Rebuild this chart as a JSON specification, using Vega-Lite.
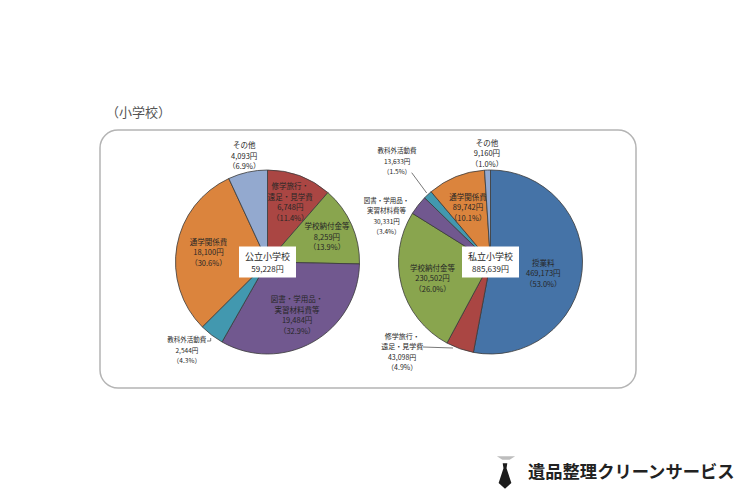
{
"$schema":"https://vega.github.io/schema/vega-lite/v6.json",
"width":536,"height":258,"autosize":"none",
"padding":{"left":100,"top":130,"right":114,"bottom":112},
"background":"white",
"view":{"stroke":"#b4b4b4","strokeWidth":1.5,"cornerRadius":18,"fill":"white"},
"title":{"text":"（小学校）","anchor":"start","frame":"group","font":"Noto Sans CJK JP","fontSize":13,"fontWeight":"normal","color":"#555555","offset":10,"dx":6},
"config":{"text":{"baseline":"middle","font":"Noto Sans CJK JP","lineHeight":10.5,"color":"#262626"}},
"datasets":{
"costs":[
{"id":"pub1","school":"公立小学校","order":1,"category":"修学旅行","value":6748,"label":["修学旅行・","遠足・見学費","6,748円","（11.4%）"]},
{"id":"pub2","school":"公立小学校","order":2,"category":"学校納付金","value":8259,"label":["学校納付金等","8,259円","（13.9%）"]},
{"id":"pub3","school":"公立小学校","order":3,"category":"図書","value":19484,"label":["図書・学用品・","実習材料費等","19,484円","（32.9%）"]},
{"id":"pub4","school":"公立小学校","order":4,"category":"教科外","value":2544,"label":["教科外活動費","2,544円","（4.3%）"]},
{"id":"pub5","school":"公立小学校","order":5,"category":"通学","value":18100,"label":["通学関係費","18,100円","（30.6%）"]},
{"id":"pub6","school":"公立小学校","order":6,"category":"その他","value":4093,"label":["その他","4,093円","（6.9%）"]},
{"id":"pri0","school":"私立小学校","order":0,"category":"授業料","value":469173,"label":["授業料","469,173円","（53.0%）"]},
{"id":"pri1","school":"私立小学校","order":1,"category":"修学旅行","value":43098,"label":["修学旅行・","遠足・見学費","43,098円","（4.9%）"]},
{"id":"pri2","school":"私立小学校","order":2,"category":"学校納付金","value":230502,"label":["学校納付金等","230,502円","（26.0%）"]},
{"id":"pri3","school":"私立小学校","order":3,"category":"図書","value":30331,"label":["図書・学用品・","実習材料費等","30,331円","（3.4%）"]},
{"id":"pri4","school":"私立小学校","order":4,"category":"教科外","value":13633,"label":["教科外活動費","13,633円","（1.5%）"]},
{"id":"pri5","school":"私立小学校","order":5,"category":"通学","value":89742,"label":["通学関係費","89,742円","（10.1%）"]},
{"id":"pri6","school":"私立小学校","order":6,"category":"その他","value":9160,"label":["その他","9,160円","（1.0%）"]}
],
"totals":[{"school":"公立小学校","total":"59,228円"},{"school":"私立小学校","total":"885,639円"}]
},
"data":{"name":"costs"},
"transform":[{"stack":"value","groupby":["school"],"sort":[{"field":"order","order":"ascending"}],"offset":"normalize","as":["s0","s1"]}],
"encoding":{
"x":{"field":"school","type":"nominal","axis":null,"scale":{"type":"point","padding":0,"domain":["公立小学校","私立小学校"],"range":[167.5,390.5]}},
"y":{"field":"school","type":"nominal","axis":null,"scale":{"type":"point","padding":0,"domain":["公立小学校","私立小学校"],"range":[132,132]}}
},
"layer":[
{"mark":{"type":"arc","outerRadius":92,"stroke":"#3a3a3a","strokeWidth":0.8},
"encoding":{
"theta":{"field":"s0","type":"quantitative","scale":{"domain":[0,1],"range":[0,6.28319]}},
"theta2":{"field":"s1"},
"color":{"field":"category","type":"nominal","legend":null,"scale":{"domain":["授業料","修学旅行","学校納付金","図書","教科外","通学","その他"],"range":["#4573a7","#aa4643","#89a54e","#71588f","#4298af","#db843d","#93a9cf"]}}}},
{"transform":[{"filter":{"field":"id","oneOf":["pub3","pub5","pri2","pri5"]}}],
"mark":{"type":"text","theta":{"expr":"(datum.s0+datum.s1)*PI"},"radius":60,"dy":{"expr":"2-(length(datum.label)-1)*5.25"},"fontSize":7.5},
"encoding":{"text":{"field":"label"}}},
{"transform":[{"filter":{"field":"id","oneOf":["pub1","pub2"]}}],
"mark":{"type":"text","theta":{"expr":"(datum.s0+datum.s1)*PI"},"radius":65,"dy":{"expr":"2-(length(datum.label)-1)*5.25"},"fontSize":7.5},
"encoding":{"text":{"field":"label"}}},
{"transform":[{"filter":{"field":"id","oneOf":["pri0"]}}],
"mark":{"type":"text","theta":{"expr":"(datum.s0+datum.s1)*PI"},"radius":53,"dy":-3,"fontSize":7.5},
"encoding":{"text":{"field":"label"}}},
{"transform":[{"filter":{"field":"id","oneOf":["pub6","pri6"]}}],
"mark":{"type":"text","theta":{"expr":"(datum.s0+datum.s1)*PI"},"radius":108,"dy":-10.5,"fontSize":7.5},
"encoding":{"text":{"field":"label"}}},
{"transform":[{"filter":{"field":"id","oneOf":["pub4"]}}],
"mark":{"type":"text","theta":{"expr":"(datum.s0+datum.s1)*PI"},"radius":118,"dx":-9,"dy":-15.5,"fontSize":6.5},
"encoding":{"text":{"field":"label"}}},
{"transform":[{"filter":{"field":"id","oneOf":["pri1"]}}],
"mark":{"type":"text","theta":{"expr":"(datum.s0+datum.s1)*PI"},"radius":118,"dx":-49,"dy":-36.75,"fontSize":7},
"encoding":{"text":{"field":"label"}}},
{"transform":[{"filter":{"field":"id","oneOf":["pri3"]}}],
"mark":{"type":"text","theta":{"expr":"(datum.s0+datum.s1)*PI"},"radius":113,"dx":-15,"dy":8.25,"fontSize":6.5},
"encoding":{"text":{"field":"label"}}},
{"transform":[{"filter":{"field":"id","oneOf":["pri4"]}}],
"mark":{"type":"text","theta":{"expr":"(datum.s0+datum.s1)*PI"},"radius":137,"dy":-10.5,"fontSize":6.5},
"encoding":{"text":{"field":"label"}}},
{"data":{"name":"totals"},
"mark":{"type":"rect","width":57,"height":31,"fill":"white"},"encoding":{}},
{"data":{"name":"totals"},
"mark":{"type":"text","dy":-5,"fontSize":9},"encoding":{"text":{"field":"school"}}},
{"data":{"name":"totals"},
"mark":{"type":"text","dy":8,"fontSize":8},"encoding":{"text":{"field":"total"}}},
{"data":{"values":[
{"line":"a","step":1,"px":323,"py":217},{"line":"a","step":2,"px":353,"py":218},
{"line":"b","step":1,"px":311.7,"py":42.7},{"line":"b","step":2,"px":326.7,"py":63},
{"line":"c","step":1,"px":107,"py":211},{"line":"c","step":2,"px":110.7,"py":211},{"line":"c","step":3,"px":110.7,"py":208}
]},
"mark":{"type":"line","stroke":"#555555","strokeWidth":0.8,"clip":false},
"encoding":{
"x":{"field":"px","type":"quantitative","axis":null,"scale":{"domain":[0,536],"range":[0,536]}},
"y":{"field":"py","type":"quantitative","axis":null,"scale":{"domain":[0,258],"range":[0,258]}},
"detail":{"field":"line"},"order":{"field":"step"}}},
{"data":{"values":[{"brand":"遺品整理クリーンサービス","px":428,"py":343}]},
"mark":{"type":"text","align":"left","fontSize":17.3,"fontWeight":"bold","color":"#222222","clip":false},
"encoding":{
"x":{"field":"px","type":"quantitative","axis":null,"scale":{"domain":[0,536],"range":[0,536]}},
"y":{"field":"py","type":"quantitative","axis":null,"scale":{"domain":[0,258],"range":[0,258]}},
"text":{"field":"brand"}}},
{"data":{"values":[{"part":"collar","px":406,"py":328}]},
"mark":{"type":"point","filled":true,"opacity":1,"color":"#bdbdbd","size":330,"shape":"M-1,-0.2L1,-0.2L0.4,0.2L-0.4,0.2Z","clip":false},
"encoding":{
"x":{"field":"px","type":"quantitative","axis":null,"scale":{"domain":[0,536],"range":[0,536]}},
"y":{"field":"py","type":"quantitative","axis":null,"scale":{"domain":[0,258],"range":[0,258]}}}},
{"data":{"values":[{"part":"tie","px":405,"py":346}]},
"mark":{"type":"point","filled":true,"opacity":1,"color":"#1c1c1c","size":650,"shape":"M-0.18,-1L0.18,-1L0.12,-0.6L0.5,0.55L0,1L-0.5,0.55L-0.12,-0.6Z","clip":false},
"encoding":{
"x":{"field":"px","type":"quantitative","axis":null,"scale":{"domain":[0,536],"range":[0,536]}},
"y":{"field":"py","type":"quantitative","axis":null,"scale":{"domain":[0,258],"range":[0,258]}}}}
],
"resolve":{"scale":{"x":"independent","y":"independent"}}
}
